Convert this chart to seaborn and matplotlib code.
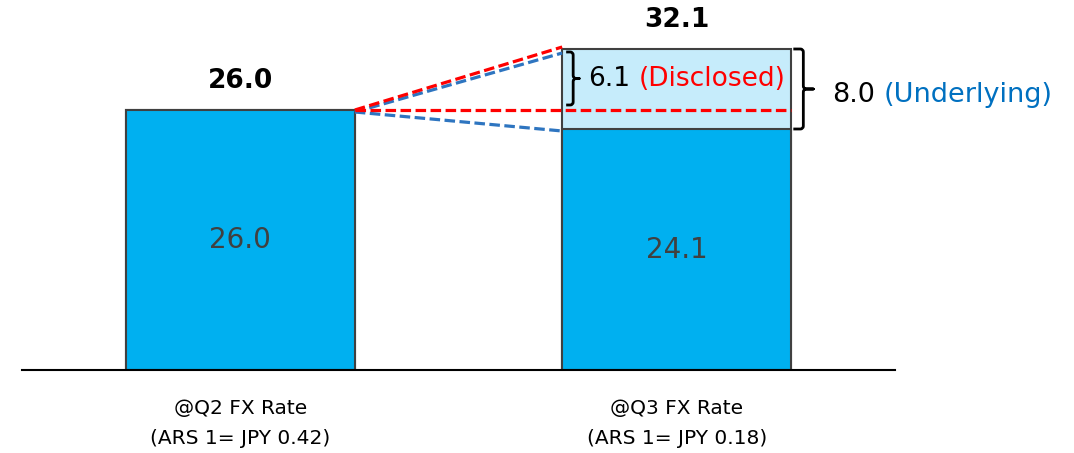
import numpy as np
import pandas as pd
import matplotlib
matplotlib.use("Agg")
import matplotlib.pyplot as plt
from matplotlib.path import Path
from matplotlib.patches import PathPatch
import seaborn as sns

categories = ["@Q2 FX Rate\n(ARS 1= JPY 0.42)", "@Q3 FX Rate\n(ARS 1= JPY 0.18)"]
base_values = [26.0, 24.1]
total_values = [26.0, 32.1]
disclosed = 6.1
underlying = 8.0

CYAN = "#00B0F0"
LIGHT = "#C6ECFB"
EDGE = "#404040"
RED = "#FF0000"
BLUE = "#0070C0"
BLUE_LINE = "#2E75C0"
BAR_W = 0.525
PX = 1 / 436.5   # one pixel in x data units
PY = 0.1         # one pixel in y data units


def brace(ax, x0, y_bot, y_top, arm, tip, rad=3):
    # right-pointing bracket "}" with rounded corners, drawn in data coords
    xm = x0 + arm
    ym = (y_bot + y_top) / 2
    rx, ry = rad * PX, rad * PY
    verts = [
        (x0, y_top), (xm - rx, y_top), (xm, y_top), (xm, y_top - ry),
        (xm, ym + ry), (xm, ym), (xm + rx, ym), (xm + tip, ym),
        (xm + rx, ym), (xm, ym), (xm, ym - ry),
        (xm, y_bot + ry), (xm, y_bot), (xm - rx, y_bot), (x0, y_bot),
    ]
    codes = [Path.MOVETO, Path.LINETO, Path.CURVE3, Path.CURVE3,
             Path.LINETO, Path.CURVE3, Path.CURVE3, Path.LINETO,
             Path.LINETO, Path.CURVE3, Path.CURVE3,
             Path.LINETO, Path.CURVE3, Path.CURVE3, Path.LINETO]
    ax.add_patch(PathPatch(Path(verts, codes), fill=False, lw=2, color="black",
                           capstyle="butt", joinstyle="round", zorder=5))
    return xm + tip, ym


sns.set_theme(style="white")
plt.rcParams["font.family"] = ["DejaVu Sans"]

fig = plt.figure(figsize=(10.74, 4.53), dpi=100)
ax = fig.add_axes([22 / 1074, 83 / 453, 873 / 1074, 370 / 453])

df = pd.DataFrame({"cat": categories, "base": base_values, "total": total_values})
sns.barplot(data=df, x="cat", y="total", color=LIGHT, saturation=1, width=BAR_W,
            edgecolor=EDGE, linewidth=1.5, ax=ax)
sns.barplot(data=df, x="cat", y="base", color=CYAN, saturation=1, width=BAR_W,
            edgecolor=EDGE, linewidth=1.5, ax=ax)

ax.set_xlim(-0.5, 1.5)
ax.set_ylim(0, 37)
ax.set_xlabel("")
ax.set_ylabel("")
ax.set_yticks([])
for s in ["left", "top", "right"]:
    ax.spines[s].set_visible(False)
ax.spines["bottom"].set_color("black")
ax.spines["bottom"].set_linewidth(1.5)
ax.tick_params(axis="x", length=0, pad=21, labelsize=14.5, colors="black")
plt.setp(ax.get_xticklabels(), linespacing=1.7)

# value labels
for i, (b, t) in enumerate(zip(base_values, total_values)):
    ax.text(i, b / 2, f"{b:.1f}", ha="center", va="center", fontsize=20, color=EDGE)
    ax.annotate(f"{t:.1f}", (i, t), xytext=(0, 16), textcoords="offset points",
                ha="center", va="baseline", fontsize=19, fontweight="bold", color="black")

# bridge lines from Q2 bar top to Q3 bar
x1r = 0 + BAR_W / 2
x2l = 1 - BAR_W / 2
x2r = 1 + BAR_W / 2
dash = (0, (3.3, 1.4))
q2, q3 = base_values[0], total_values[1]
ax.plot([x1r, x2r], [q2, q2], color=RED, lw=2.3, ls=dash, zorder=4)
ax.plot([x1r, x2l], [q2 - 0.2, q3 - 0.4], color=BLUE_LINE, lw=2.3, ls=dash, zorder=3)
ax.plot([x1r, x2l], [q2 - 0.2, base_values[1] - 0.2], color=BLUE_LINE, lw=2.3, ls=dash, zorder=3)
ax.plot([x1r, x2l], [q2, q3 + 0.2], color=RED, lw=2.3, ls=dash, zorder=4)

# braces and annotations
tip_x, tip_y = brace(ax, x2l + 4 * PX, q3 - disclosed + 0.5, q3 - 0.3, 7 * PX, 6 * PX)
t1 = ax.text(tip_x + 9 * PX, tip_y - 0.1, f"{disclosed:.1f}", ha="left", va="center",
             fontsize=19, color="black")
ax.annotate("(Disclosed)", xy=(1, 0), xycoords=t1, xytext=(6, 0), textcoords="offset points",
            ha="left", va="bottom", fontsize=19, color=RED)

tip_x, tip_y = brace(ax, x2r + 2 * PX, q3 - underlying, q3, 10 * PX, 10 * PX)
t2 = ax.text(tip_x + 19 * PX, tip_y - 0.6, f"{underlying:.1f}", ha="left", va="center",
             fontsize=19.5, color="black")
ax.annotate("(Underlying)", xy=(1, 0), xycoords=t2, xytext=(6, 0), textcoords="offset points",
            ha="left", va="bottom", fontsize=19.5, color=BLUE)
for t in ax.texts:
    t.set_clip_on(False)

fig.savefig("out.png", dpi=100)
